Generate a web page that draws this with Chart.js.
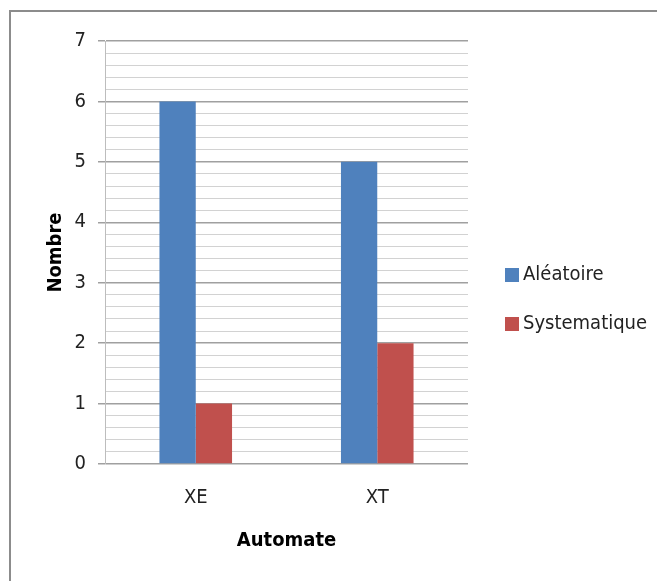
<!DOCTYPE html>
<html>
<head>
<meta charset="utf-8">
<script src="https://cdn.jsdelivr.net/npm/chart.js@4"></script>
<style>
  html, body { margin: 0; padding: 0; background: #fff; }
  #wrap { position: relative; width: 657px; height: 581px; overflow: hidden; }
  #frame { position: absolute; left: 9px; top: 10px; width: 700px; height: 700px; border: 2px solid #8c8c8c; box-sizing: border-box; }
  canvas { position: absolute; left: 0; top: 0; }
</style>
</head>
<body>
<div id="wrap">
  <div id="frame"></div>
  <canvas id="chart" width="657" height="581"></canvas>
</div>
<script>
// Data
const categories = ['XE', 'XT'];
const aleatoire = [6, 5];
const systematique = [1, 2];
const seriesNames = ['Aléatoire', 'Systematique'];
const seriesColors = ['#4F81BD', '#C0504D'];

const FONT = '"DejaVu Sans Condensed", "Noto Sans", sans-serif';
const isMajor = v => Math.abs(v - Math.round(v)) < 1e-6;

// Legend on the right, Excel style (built-in one gets squeezed by the layout)
const sideLegend = {
  id: 'sideLegend',
  afterDraw(chart) {
    const c = chart.ctx;
    c.save();
    c.font = '20px ' + FONT;
    c.textBaseline = 'middle';
    c.textAlign = 'left';
    chart.data.datasets.forEach((ds, i) => {
      const cy = 275 + i * 49;
      c.fillStyle = ds.backgroundColor;
      c.fillRect(505, cy - 7, 14, 14);
      c.fillStyle = '#222';
      c.fillText(ds.label, 523, cy);
    });
    c.restore();
  }
};

const ctx = document.getElementById('chart').getContext('2d');
new Chart(ctx, {
  type: 'bar',
  data: {
    labels: categories,
    datasets: [
      { label: seriesNames[0], data: aleatoire, backgroundColor: seriesColors[0] },
      { label: seriesNames[1], data: systematique, backgroundColor: seriesColors[1] }
    ]
  },
  options: {
    responsive: false,
    animation: false,
    devicePixelRatio: 1,
    layout: { padding: { top: 41, left: 40, right: 657 - 468, bottom: 24 } },
    datasets: { bar: { categoryPercentage: 0.4, barPercentage: 1.0 } },
    scales: {
      x: {
        grid: { display: false },
        border: { display: false },
        afterFit: s => { s.height = 581 - 464 - 24; },
        ticks: { color: '#222', font: { family: FONT, size: 20 }, padding: 14 },
        title: { display: true, text: 'Automate', color: '#000', font: { family: FONT, size: 20, weight: 'bold' } }
      },
      y: {
        min: 0,
        max: 7,
        afterFit: s => { s.width = 105 - 40; },
        ticks: {
          stepSize: 0.2,
          autoSkip: false,
          color: '#222',
          font: { family: FONT, size: 20 },
          padding: 12,
          callback: v => isMajor(v) ? Math.round(v) : ''
        },
        grid: {
          color: c => isMajor(c.tick.value) ? '#a0a0a0' : '#d2d2d2',
          tickColor: c => isMajor(c.tick.value) ? '#a0a0a0' : 'rgba(0,0,0,0)',
          tickLength: 7,
          lineWidth: c => isMajor(c.tick.value) ? 1.5 : 1
        },
        border: { color: '#bdbdbd' },
        title: { display: true, text: 'Nombre', color: '#000', font: { family: FONT, size: 20, weight: 'bold' }, padding: { bottom: 10 } }
      }
    },
    plugins: {
      legend: { display: false },
      tooltip: { enabled: false }
    }
  },
  plugins: [sideLegend]
});
</script>
</body>
</html>
